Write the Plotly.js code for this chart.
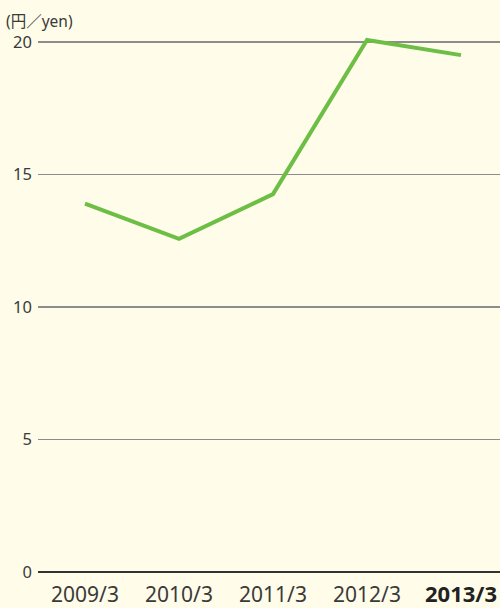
<!DOCTYPE html>
<html><head><meta charset="utf-8">
<script src="https://cdn.plot.ly/plotly-3.0.1.min.js"></script>
<style>html,body{margin:0;padding:0;background:#FFFCE9;}#chart{width:500px;height:608px;}</style>
</head><body><div id="chart"></div>
<script>
const categories = ["2009/3", "2010/3", "2011/3", "2012/3", "2013/3"];
const tickLabels = ["2009/3", "2010/3", "2011/3", "2012/3", "<b><span style='font-size:22px;color:#222'>2013/3</span></b>"];
const values = [13.9, 12.57, 14.26, 20.08, 19.51];
const yTicks = [0, 5, 10, 15, 20];
const unitLabel = "(円／yen)";

const trace = {
  x: categories, y: values, type: "scatter", mode: "lines",
  line: {color: "#6DBE45", width: 4}, hoverinfo: "none"
};
const layout = {
  width: 500, height: 608,
  margin: {l: 38, r: 0, t: 31, b: 34, pad: 0},
  paper_bgcolor: "#FFFCE9", plot_bgcolor: "#FFFCE9",
  font: {family: "Noto Sans, Noto Sans CJK JP, sans-serif", color: "#3a3a3a", size: 16},
  showlegend: false,
  xaxis: {
    type: "category", range: [-0.5, 4.415], tickvals: categories, ticktext: tickLabels,
    showgrid: false, zeroline: false, showline: false, ticks: "",
    tickfont: {size: 21, color: "#3a3a3a"}, ticklabelstandoff: 6, fixedrange: true
  },
  yaxis: {
    range: [-0.08, 20.42], tickvals: yTicks, ticktext: yTicks.map(String),
    showgrid: true, gridcolor: "#8C8C8C", gridwidth: 1.5,
    zeroline: true, zerolinecolor: "#333", zerolinewidth: 1.5,
    showline: false, ticks: "", tickfont: {size: 16.5, color: "#3a3a3a"},
    ticklabelstandoff: 5, fixedrange: true
  },
  annotations: [{
    text: unitLabel, xref: "paper", yref: "paper", x: -34/462, y: 1, yshift: 10,
    xanchor: "left", yanchor: "middle", showarrow: false,
    font: {size: 15.5, color: "#3a3a3a"}
  }]
};
Plotly.newPlot("chart", [trace], layout, {displayModeBar: false, staticPlot: true});
</script></body></html>
